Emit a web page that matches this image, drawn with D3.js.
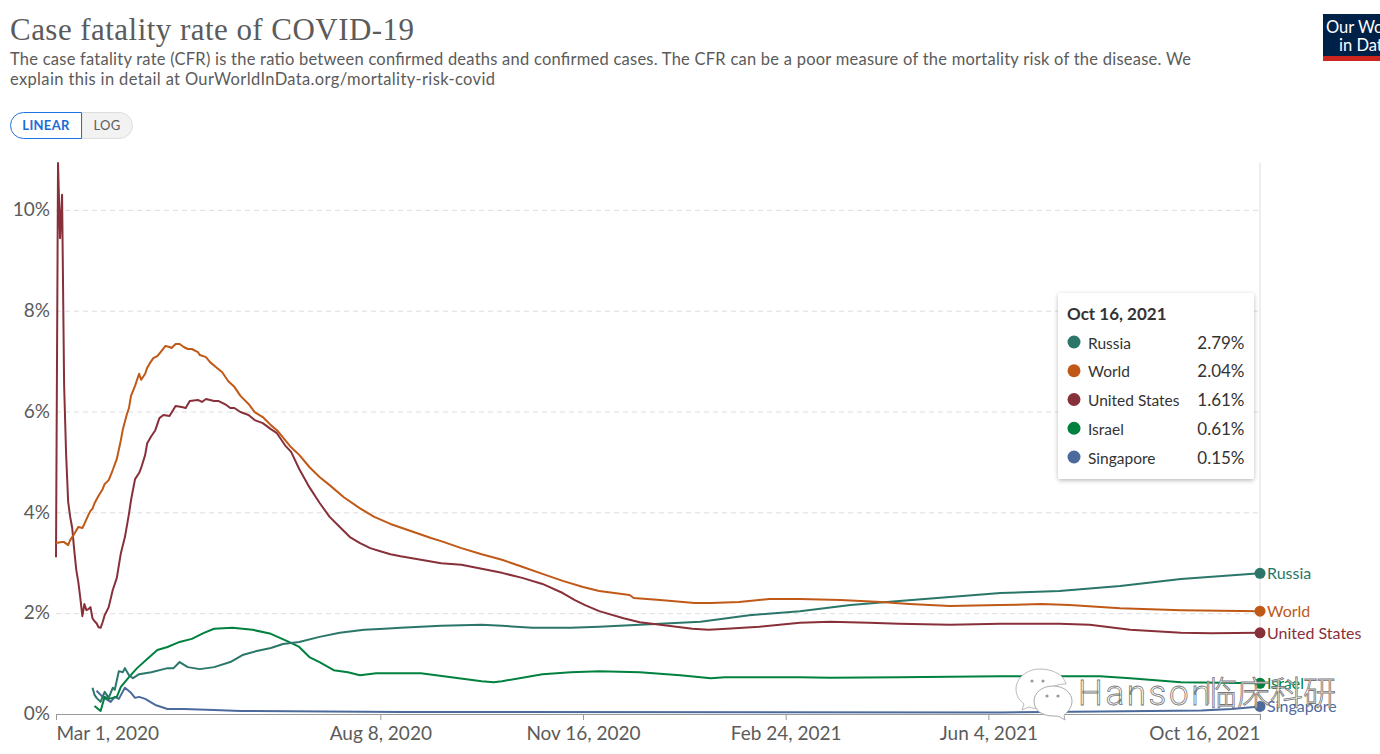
<!DOCTYPE html>
<html><head><meta charset="utf-8">
<script src="https://cdn.jsdelivr.net/npm/d3@7/dist/d3.min.js"></script>
<style>
html,body{margin:0;padding:0;background:#fff;overflow:hidden;width:1380px;height:754px}
svg{display:block}
text{font-family:Lato,"Noto Sans",sans-serif}
</style></head><body><svg id="c" width="1380" height="754"></svg>
<script>
const startDate = Date.UTC(2020, 2, 1);
const tickDates = ["2020-03-01","2020-08-08","2020-11-16","2021-02-24","2021-06-04","2021-10-16"];
const yTicks = [0,2,4,6,8,10];
const names = ["Russia","World","United States","Israel","Singapore"];
const latest = ["2.79%","2.04%","1.61%","0.61%","0.15%"];
const colors = ["#2A7669","#C05917","#883039","#00813F","#4C6A9C"];

const usDays = [0,1,2,3,4,5,6,7,8,9,10,11,12,13,14,15,16,17,18,19,20,21,22,23,24,26,28,30,32,34,36,37,39,41,42,44,45,47,49,51,53,56,59,62,64,66,70,72,74,78,80,84,86,88,91,95,98,102,106,109,113,116,120,125,130,135,140,145,150,155,160,165,170,180,190,200,210,220,230,240,250,256,261,268,280,288,302,314,322,331,347,367,382,401,416,441,466,495,510,530,555,570,594];
const usValues = [3.11,10.93,9.44,10.30,6.53,5.14,4.21,3.91,3.69,3.25,2.86,2.62,2.30,1.94,2.18,2.06,2.08,2.12,1.90,1.84,1.80,1.72,1.71,1.82,1.96,2.12,2.46,2.70,3.19,3.51,3.97,4.24,4.66,4.78,4.88,5.14,5.37,5.51,5.63,5.87,5.93,5.91,6.11,6.09,6.07,6.21,6.23,6.19,6.25,6.21,6.21,6.13,6.07,6.07,5.99,5.93,5.83,5.77,5.65,5.57,5.33,5.20,4.86,4.50,4.19,3.91,3.71,3.51,3.39,3.29,3.23,3.17,3.13,3.06,2.99,2.96,2.88,2.80,2.70,2.58,2.40,2.26,2.16,2.04,1.90,1.82,1.75,1.69,1.67,1.69,1.73,1.81,1.83,1.81,1.79,1.77,1.79,1.79,1.77,1.67,1.61,1.60,1.61];

const worldDays = [0,3,4,6,7,9,11,13,14,16,17,18,19,21,23,24,26,28,30,32,33,35,36,37,39,41,42,44,45,46,48,50,52,54,56,57,59,61,63,65,67,70,71,74,76,79,82,85,88,91,95,98,102,106,109,116,120,125,130,135,142,150,157,165,175,185,190,200,210,220,230,240,250,260,268,283,285,298,315,323,337,352,367,387,407,421,441,466,486,500,525,555,594];
const worldValues = [3.39,3.41,3.41,3.35,3.45,3.57,3.71,3.69,3.77,3.95,4.03,4.07,4.18,4.33,4.46,4.56,4.64,4.84,5.06,5.43,5.65,5.95,6.07,6.31,6.51,6.75,6.63,6.75,6.87,6.94,7.06,7.10,7.20,7.30,7.28,7.26,7.34,7.34,7.28,7.24,7.24,7.18,7.12,7.08,6.98,6.88,6.78,6.60,6.49,6.31,6.15,5.99,5.89,5.73,5.63,5.29,5.14,4.90,4.70,4.54,4.30,4.08,3.91,3.77,3.63,3.49,3.43,3.29,3.17,3.06,2.92,2.78,2.64,2.52,2.44,2.36,2.30,2.26,2.20,2.20,2.22,2.28,2.28,2.26,2.22,2.18,2.14,2.16,2.18,2.16,2.10,2.06,2.04];

const russiaDays = [18,19,20,22,24,26,28,29,31,33,34,36,38,41,47,55,58,61,65,71,78,86,92,99,106,112,120,130,140,152,162,170,190,210,220,235,254,268,288,318,342,367,392,416,441,466,495,525,555,594];
const russiaValues = [0.52,0.38,0.32,0.24,0.44,0.32,0.52,0.48,0.85,0.83,0.91,0.77,0.71,0.79,0.83,0.91,0.91,1.03,0.93,0.89,0.93,1.03,1.17,1.25,1.31,1.39,1.43,1.53,1.61,1.67,1.69,1.71,1.75,1.77,1.75,1.71,1.71,1.73,1.77,1.83,1.96,2.04,2.16,2.24,2.32,2.40,2.44,2.54,2.68,2.79];

const israelDays = [19,22,24,26,30,32,36,40,45,50,55,61,67,73,78,87,97,106,116,120,125,130,137,144,150,158,170,180,195,210,216,220,240,254,268,288,308,323,330,367,382,416,466,515,530,555,594];
const israelValues = [0.16,0.06,0.34,0.30,0.34,0.54,0.73,0.91,1.09,1.27,1.33,1.43,1.49,1.61,1.69,1.71,1.67,1.59,1.41,1.33,1.13,1.03,0.87,0.83,0.77,0.81,0.81,0.81,0.73,0.65,0.63,0.65,0.79,0.83,0.85,0.83,0.77,0.71,0.73,0.73,0.72,0.73,0.75,0.75,0.71,0.63,0.61];

const singaporeDays = [20,23,27,29,31,34,37,39,41,44,49,55,63,78,91,170,466,515,565,580,594];
const singaporeValues = [0.46,0.34,0.24,0.34,0.30,0.52,0.42,0.32,0.34,0.30,0.18,0.10,0.10,0.08,0.06,0.04,0.03,0.05,0.07,0.10,0.15];

const seriesDays = [russiaDays,worldDays,usDays,israelDays,singaporeDays];
const seriesValues = [russiaValues,worldValues,usValues,israelValues,singaporeValues];

const svg = d3.select("#c");
const parse = d3.utcParse("%Y-%m-%d");
const x = d3.scaleUtc().domain([parse(tickDates[0]), parse(tickDates[5])]).range([56,1260]);
const y = d3.scaleLinear().domain([0,10.93]).range([714,163]);
const dayToDate = d => new Date(startDate + d*864e5);
const line = d3.line().x(d=>x(dayToDate(d[0]))).y(d=>y(d[1]));
const TXT = "#5b5b5b";

// header
svg.append("text").attr("x",10).attr("y",40).attr("textLength",404).attr("lengthAdjust","spacing")
  .style("font-family","'Liberation Serif',serif").style("font-size","31px").attr("fill",TXT).text("Case fatality rate of COVID-19");
svg.append("text").attr("x",10).attr("y",65).style("font-size","16.5px").attr("fill",TXT)
  .attr("textLength",1181).text("The case fatality rate (CFR) is the ratio between confirmed deaths and confirmed cases. The CFR can be a poor measure of the mortality risk of the disease. We");
svg.append("text").attr("x",10).attr("y",85).style("font-size","16.5px").attr("fill",TXT)
  .attr("textLength",485).text("explain this in detail at OurWorldInData.org/mortality-risk-covid");

// logo
svg.append("rect").attr("x",1323).attr("y",14).attr("width",70).attr("height",42).attr("fill","#002147");
svg.append("rect").attr("x",1323).attr("y",56).attr("width",70).attr("height",5).attr("fill","#CE261E");
svg.append("text").attr("x",1326).attr("y",33).style("font-size","16.5px").attr("fill","#fff").text("Our World");
svg.append("text").attr("x",1339).attr("y",51).style("font-size","16.5px").attr("fill","#fff").text("in Data");

// buttons
svg.append("path").attr("d","M132.5 125.5a13 13 0 0 0-13-13H82v26h37.5a13 13 0 0 0 13-13z").attr("fill","#f2f2f2").attr("stroke","#ddd");
svg.append("path").attr("d","M81.5 112.5H23.5a13 13 0 0 0 0 26H81.5z").attr("fill","#fff").attr("stroke","#1d73e0");
svg.append("text").attr("x",46).attr("y",130).attr("text-anchor","middle").style("font-size","13px").style("font-weight",700).style("letter-spacing","0.3px").attr("fill","#1d6bd6").text("LINEAR");
svg.append("text").attr("x",107).attr("y",130).attr("text-anchor","middle").style("font-size","13px").style("letter-spacing","0.3px").attr("fill",TXT).text("LOG");

// y grid + labels
const yAxis = svg.append("g").attr("transform","translate(56,0)")
  .call(d3.axisLeft(y).tickValues(yTicks).tickSize(-1204).tickPadding(6).tickFormat(d=>d+"%"));
yAxis.select(".domain").remove();
yAxis.selectAll(".tick line").attr("stroke","#ddd").attr("stroke-dasharray","5,4");
yAxis.selectAll(".tick").filter(d=>d===0).select("line").remove();
yAxis.selectAll("text").attr("fill",TXT).style("font-size","19px").attr("dy","0.3em").style("font-family","Lato");

// right rule
svg.append("line").attr("x1",1260).attr("x2",1260).attr("y1",y(10.93)).attr("y2",720).attr("stroke","#ddd").attr("stroke-width",1);

// x axis
const xAxis = svg.append("g").attr("transform","translate(0,714)")
  .call(d3.axisBottom(x).tickValues(tickDates.map(parse)).tickSize(6).tickSizeOuter(0).tickPadding(7).tickFormat(d3.utcFormat("%b %-d, %Y")));
xAxis.select(".domain").attr("stroke","#999").attr("stroke-width",1.2);
xAxis.selectAll(".tick line").attr("stroke","#999");
xAxis.selectAll("text").attr("fill",TXT).style("font-size","19px").style("font-family","Lato");
xAxis.selectAll(".tick").filter((d,i)=>i===0).select("text").attr("text-anchor","start");
xAxis.selectAll(".tick").filter((d,i)=>i===5).select("text").attr("text-anchor","end");

// lines
[4,3,0,2,1].forEach(i=>{
  const pts = seriesDays[i].map((d,k)=>[d,seriesValues[i][k]]);
  svg.append("path").datum(pts).attr("d",line).attr("fill","none").attr("stroke",colors[i])
    .attr("stroke-width",2).attr("stroke-linejoin","round");
  const last = pts[pts.length-1];
  svg.append("circle").attr("cx",x(dayToDate(last[0]))).attr("cy",y(last[1])).attr("r",5.5).attr("fill",colors[i]);
  svg.append("text").attr("x",x(dayToDate(last[0]))+7).attr("y",y(last[1])).attr("dy","0.36em")
    .style("font-size","16px").attr("fill",colors[i]).text(names[i]);
});

// tooltip
const defs = svg.append("defs");
const f = defs.append("filter").attr("id","sh").attr("x","-10%").attr("y","-10%").attr("width","120%").attr("height","120%");
f.append("feDropShadow").attr("dx",0).attr("dy",1.5).attr("stdDeviation",2.2).attr("flood-color","#000").attr("flood-opacity",0.28);
svg.append("rect").attr("x",1058).attr("y",293).attr("width",196).attr("height",186).attr("rx",3).attr("fill","#fff").attr("filter","url(#sh)");
svg.append("text").attr("x",1067).attr("y",320).style("font-size","17px").style("font-weight",700).attr("fill","#333").text("Oct 16, 2021");
const rowY = d3.scaleLinear().domain([0,4]).range([343,458]);
names.forEach((n,i)=>{
  svg.append("circle").attr("cx",1074).attr("cy",rowY(i)-1).attr("r",6.5).attr("fill",colors[i]);
  svg.append("text").attr("x",1088).attr("y",rowY(i)+5.5).style("font-size","15.5px").attr("fill","#333").text(n);
  svg.append("text").attr("x",1244.5).attr("y",rowY(i)+5.5).attr("text-anchor","end").style("font-size","17px").attr("fill","#333").text(latest[i]);
});

// watermark
const wm = svg.append("g");
wm.append("path").attr("d","M1040 669c-13 0-24 9-24 20 0 6 3 11 8 15l-2 6 7-3c3 1 7 2 11 2 1 0 2 0 3 0-1-2-1-4-1-6 0-11 10-19 23-19h1c-2-9-13-15-26-15z")
  .attr("fill","#fff").attr("stroke","#bbb").attr("stroke-width",1);
wm.append("path").attr("d","M1053 686c-11 0-19 7-19 15 0 9 8 15 19 15 3 0 5 0 7 1l5 3-1-5c4-3 8-8 8-14 0-8-8-15-19-15z")
  .attr("fill","#fff").attr("stroke","#aaa").attr("stroke-width",1);
[[1032,681],[1043,681],[1047,696],[1058,696]].forEach(p=>
  wm.append("circle").attr("cx",p[0]).attr("cy",p[1]).attr("r",1.6).attr("fill","#999"));
wm.append("text").attr("x",1078).attr("y",705).style("font-family","Roboto,'Noto Sans CJK SC',sans-serif").style("font-weight",300)
  .style("font-size","35px").style("letter-spacing","2.6px").attr("fill","#fff").attr("stroke","#777").attr("stroke-width",0.8).text("Hanson");
wm.append("text").attr("x",1204).attr("y",705).style("font-family","'Noto Sans CJK SC',sans-serif").style("font-weight",300)
  .style("font-size","33px").attr("fill","#fff").attr("stroke","#777").attr("stroke-width",0.8).text("临床科研");
</script></body></html>
